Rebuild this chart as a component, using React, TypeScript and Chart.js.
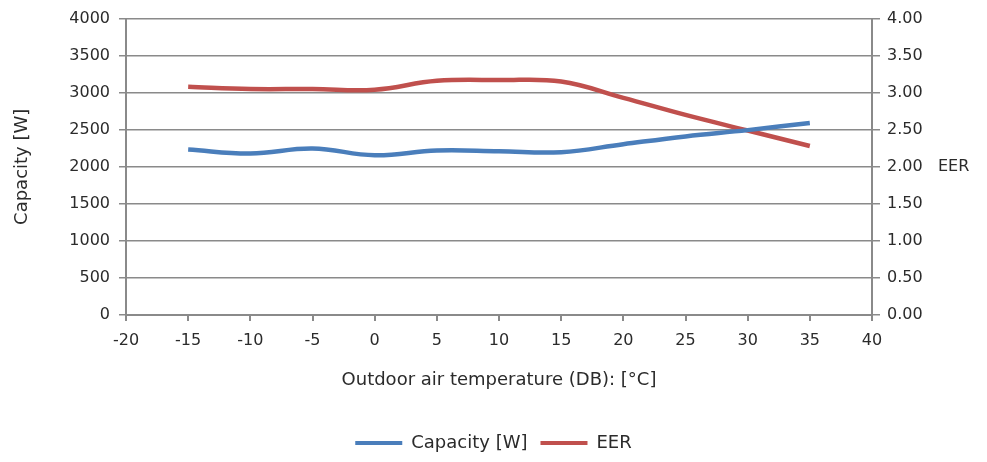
import React, { useEffect, useRef } from 'react';
import { Chart, registerables } from 'chart.js';

Chart.register(...registerables);

// Outdoor air temperature (DB) [°C]
const temperatures: number[] = [-15, -10, -5, 0, 5, 10, 15, 20, 25, 30, 35];
// Capacity [W]
const capacityW: number[] = [2233, 2180, 2247, 2156, 2220, 2210, 2197, 2305, 2410, 2495, 2592];
// EER
const eerValues: number[] = [3.08, 3.05, 3.05, 3.04, 3.16, 3.17, 3.15, 2.93, 2.7, 2.49, 2.28];

const xMin = -20;
const xMax = 40;
const xStep = 5;
const capMin = 0;
const capMax = 4000;
const capStep = 500;
const eerMin = 0;
const eerMax = 4;
const eerStep = 0.5;

const seriesNames = ['Capacity [W]', 'EER'];
const xTitle = 'Outdoor air temperature (DB): [°C]';
const leftTitle = 'Capacity [W]';
const rightTitle = 'EER';

const FONT = '"DejaVu Sans", sans-serif';
const FS = 16;
const TS = 18;
const TEXT = '#2b2b2b';
const GRID = '#8a8a8a';
const BLUE = '#4a7ebb';
const RED = '#c0504d';

const eerTitlePlugin = {
  id: 'eerTitle',
  afterDraw(chart: any) {
    const s = chart.scales.y1;
    const ctx = chart.ctx;
    ctx.save();
    ctx.font = `${FS}px ${FONT}`;
    ctx.fillStyle = TEXT;
    ctx.textAlign = 'left';
    ctx.textBaseline = 'middle';
    ctx.fillText(rightTitle, s.left + 66, s.getPixelForValue(2));
    ctx.restore();
  },
};

export default function App() {
  const ref = useRef<HTMLCanvasElement>(null);

  useEffect(() => {
    if (!ref.current) return;
    const chart = new Chart(ref.current, {
      type: 'line',
      data: {
        datasets: [
          {
            label: seriesNames[0],
            data: temperatures.map((t, i) => ({ x: t, y: capacityW[i] })),
            borderColor: BLUE,
            backgroundColor: BLUE,
            borderWidth: 4.5,
            pointRadius: 0,
            tension: 0.4,
            yAxisID: 'y',
          },
          {
            label: seriesNames[1],
            data: temperatures.map((t, i) => ({ x: t, y: eerValues[i] })),
            borderColor: RED,
            backgroundColor: RED,
            borderWidth: 4.5,
            pointRadius: 0,
            tension: 0.4,
            yAxisID: 'y1',
          },
        ],
      },
      options: {
        animation: false,
        responsive: false,
        maintainAspectRatio: false,
        layout: { padding: { top: 17, left: 0, right: 0, bottom: 0 } },
        plugins: {
          tooltip: { enabled: false },
          legend: {
            position: 'bottom',
            labels: {
              font: { family: FONT, size: TS },
              color: TEXT,
              boxWidth: 47,
              boxHeight: 4,
              padding: 13,
              generateLabels: (c: any) =>
                Chart.defaults.plugins.legend.labels
                  .generateLabels(c)
                  .map((l: any) => ({ ...l, lineWidth: 0 })),
            },
          },
        },
        scales: {
          x: {
            type: 'linear',
            min: xMin,
            max: xMax,
            ticks: {
              stepSize: xStep,
              color: TEXT,
              font: { family: FONT, size: FS },
              padding: 10,
              callback: (v: any) => String(v),
            },
            grid: { drawOnChartArea: false, drawTicks: true, tickLength: 6, color: GRID, lineWidth: 2 },
            border: { display: true, color: GRID, width: 2 },
            title: {
              display: true,
              text: xTitle,
              color: TEXT,
              font: { family: FONT, size: TS },
              padding: { top: 0, bottom: 30 },
            },
            afterFit: (s: any) => {
              s.height = 106;
            },
          },
          y: {
            type: 'linear',
            position: 'left',
            min: capMin,
            max: capMax,
            ticks: {
              stepSize: capStep,
              color: TEXT,
              font: { family: FONT, size: FS },
              padding: 9,
              callback: (v: any) => String(v),
            },
            grid: { drawOnChartArea: true, drawTicks: true, tickLength: 7, color: GRID, lineWidth: 1.5 },
            border: { display: true, color: GRID, width: 2 },
            title: {
              display: true,
              text: leftTitle,
              color: TEXT,
              font: { family: FONT, size: TS },
              padding: { top: 12, bottom: 0 },
            },
            afterFit: (s: any) => {
              s.width = 126;
            },
          },
          y1: {
            type: 'linear',
            position: 'right',
            min: eerMin,
            max: eerMax,
            ticks: {
              stepSize: eerStep,
              color: TEXT,
              font: { family: FONT, size: FS },
              padding: 7,
              callback: (v: any) => Number(v).toFixed(2),
            },
            grid: { drawOnChartArea: false, drawTicks: true, tickLength: 8, color: GRID, lineWidth: 1.5 },
            border: { display: true, color: GRID, width: 2 },
            afterFit: (s: any) => {
              s.width = 115;
            },
          },
        },
      },
      plugins: [eerTitlePlugin],
    });
    return () => chart.destroy();
  }, []);

  return (
    <div style={{ position: 'absolute', left: 0, top: 0, width: 987, height: 462, background: '#fff' }}>
      <canvas ref={ref} width={987} height={462} style={{ width: 987, height: 462 }} />
    </div>
  );
}
